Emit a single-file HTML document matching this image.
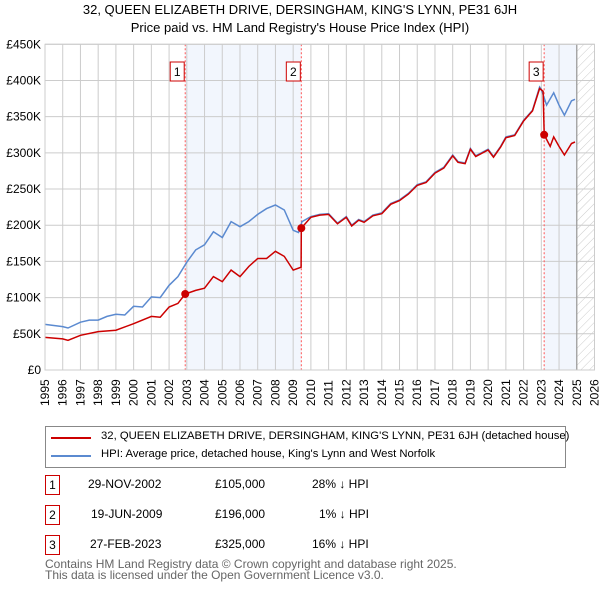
<!DOCTYPE html>
<html><head><meta charset="utf-8"><style>
body{margin:0;background:#fff;font-family:"Liberation Sans","DejaVu Sans",sans-serif;}
#wrap{position:relative;width:600px;height:590px;overflow:hidden;}
.t{position:absolute;font-size:12px;color:#000;white-space:nowrap}
.nb{position:absolute;width:13px;height:18px;border:1px solid #c00;font-size:12px;text-align:center;line-height:18px;left:45px}
</style></head><body><div id="wrap">
<div class="t" style="left:0;width:600px;text-align:center;top:2px;font-size:13px">32, QUEEN ELIZABETH DRIVE, DERSINGHAM, KING'S LYNN, PE31 6JH</div>
<div class="t" style="left:0;width:600px;text-align:center;top:20px;font-size:13px">Price paid vs. HM Land Registry's House Price Index (HPI)</div>
<svg id="svg" width="600" height="420" style="position:absolute;left:0;top:0"></svg>
<div style="position:absolute;left:45px;top:426px;width:521px;height:42px;border:1px solid #888;box-sizing:border-box">
<div><div style="position:absolute;left:5px;top:10px;width:40px;height:2px;background:#c00"></div><div class="t" style="left:55px;top:3px;font-size:11.3px">32, QUEEN ELIZABETH DRIVE, DERSINGHAM, KING'S LYNN, PE31 6JH (detached house)</div></div>
<div><div style="position:absolute;left:5px;top:28px;width:40px;height:2px;background:#5b8ad0"></div><div class="t" style="left:55px;top:21px;font-size:11.3px">HPI: Average price, detached house, King's Lynn and West Norfolk</div></div>
</div>
<div>
<div><div class="nb" style="top:475px">1</div><div class="t" style="left:88px;top:477px">29-NOV-2002</div><div class="t" style="left:215px;top:477px">£105,000</div><div class="t" style="left:312px;top:477px">28% ↓ HPI</div></div>
<div><div class="nb" style="top:505px">2</div><div class="t" style="left:91px;top:507px">19-JUN-2009</div><div class="t" style="left:215px;top:507px">£196,000</div><div class="t" style="left:319px;top:507px">1% ↓ HPI</div></div>
<div><div class="nb" style="top:535px">3</div><div class="t" style="left:90px;top:537px">27-FEB-2023</div><div class="t" style="left:215px;top:537px">£325,000</div><div class="t" style="left:312px;top:537px">16% ↓ HPI</div></div>
</div>
<div class="t" style="left:45px;top:559px;color:#666;line-height:11px">Contains HM Land Registry data © Crown copyright and database right 2025.<br>This data is licensed under the Open Government Licence v3.0.</div>
</div>
<script>
const hpiYears=[1995,1996,1996.3,1997,1997.5,1998,1998.5,1999,1999.5,2000,2000.5,2001,2001.5,2002,2002.5,2003,2003.5,2004,2004.5,2005,2005.5,2006,2006.5,2007,2007.5,2008,2008.5,2009,2009.3,2009.5,2010,2010.5,2011,2011.5,2012,2012.3,2012.7,2013,2013.5,2014,2014.5,2015,2015.5,2016,2016.5,2017,2017.5,2018,2018.3,2018.7,2019,2019.3,2020,2020.3,2020.7,2021,2021.5,2022,2022.5,2022.9,2023,2023.3,2023.7,2024,2024.3,2024.7,2024.9];
const hpiValues=[63,60,58,66,69,69,74,77,76,88,87,101,100,117,129,149,166,173,191,183,205,198,205,215,223,228,221,193,190,205,212,215,216,203,212,200,208,205,214,217,230,235,244,256,260,273,280,297,288,286,306,296,305,295,309,322,325,345,359,391,388,366,383,366,352,372,374];
const priceYears=[1995,1996,1996.3,1997,1998,1999,2000,2001,2001.5,2002,2002.5,2002.91,2003.5,2004,2004.5,2005,2005.5,2006,2006.5,2007,2007.5,2008,2008.5,2009,2009.45,2009.46,2010,2010.5,2011,2011.5,2012,2012.3,2012.7,2013,2013.5,2014,2014.5,2015,2015.5,2016,2016.5,2017,2017.5,2018,2018.3,2018.7,2019,2019.3,2020,2020.3,2020.7,2021,2021.5,2022,2022.5,2022.9,2023.1,2023.16,2023.5,2023.7,2024,2024.3,2024.7,2024.9];
const priceValues=[45,43,41,48,53,55,64,74,73,87,92,105,110,113,129,122,138,129,143,154,154,164,157,138,142,196,211,214,215,202,211,199,207,204,213,216,229,234,243,255,259,272,279,296,287,285,305,295,304,294,308,321,324,344,358,389,385,325,309,322,309,297,313,315];
const saleYears=[2002.91,2009.46,2023.16];
const saleValues=[105,196,325];
const saleLabels=["1","2","3"];
const yTicks=[0,50,100,150,200,250,300,350,400,450];
const yTickLabels=["£0","£50K","£100K","£150K","£200K","£250K","£300K","£350K","£400K","£450K"];
const xTicks=[1995,1996,1997,1998,1999,2000,2001,2002,2003,2004,2005,2006,2007,2008,2009,2010,2011,2012,2013,2014,2015,2016,2017,2018,2019,2020,2021,2022,2023,2024,2025,2026];
const X0=45,X1=594.5,Y0=370,Y1=44.3;
const x=v=>X0+(v-1995)/(31)*(X1-X0);
const y=v=>Y0-v/450*(Y0-Y1);
const svg=document.getElementById('svg');const NS='http://www.w3.org/2000/svg';
function mk(t,a,p){const e=document.createElementNS(NS,t);for(const k in a)e.setAttribute(k,a[k]);(p||svg).appendChild(e);return e;}
const defs=mk('defs',{});const pat=mk('pattern',{id:'hatch',width:6,height:6,patternUnits:'userSpaceOnUse',patternTransform:'rotate(45)'},defs);mk('line',{x1:0,y1:0,x2:0,y2:6,stroke:'#ccc','stroke-width':1},pat);
let r=mk('rect',{x:x(saleYears[0]),y:Y1,width:x(saleYears[1])-x(saleYears[0]),height:Y0-Y1,fill:'#f2f6fd'});

r=mk('rect',{x:x(saleYears[2]),y:Y1,width:x(2025)-x(saleYears[2]),height:Y0-Y1,fill:'#f2f6fd'});

r=mk('rect',{x:x(2025),y:Y1,width:X1-x(2025),height:Y0-Y1,fill:'url(#hatch)'});

yTicks.forEach((v,i)=>{const l=mk('line',{x1:X0,x2:X1,y1:y(v),y2:y(v),stroke:'#ccc'});
const t=mk('text',{x:41,y:y(v)+4,'text-anchor':'end','font-size':12,fill:'#000'});t.textContent=yTickLabels[i];});
xTicks.forEach(v=>{const l=mk('line',{x1:x(v),x2:x(v),y1:Y1,y2:Y0,stroke:'#ccc'});
const t=mk('text',{x:0,y:0,transform:`translate(${x(v)+4},${Y0+36}) rotate(-90)`,'font-size':12,fill:'#000'});t.textContent=v;});
let l=mk('line',{x1:x(2025),x2:x(2025),y1:Y1,y2:Y0,stroke:'#999','stroke-width':1.2});
saleYears.forEach((s,i)=>{const d=mk('line',{x1:x(s),x2:x(s),y1:Y1,y2:Y0,stroke:'#f55','stroke-dasharray':'2,2'});});
const path=(xs,vs)=>xs.map((v,i)=>(i?'L':'M')+x(v).toFixed(1)+','+y(vs[i]).toFixed(1)).join('');
let p=mk('path',{d:path(hpiYears,hpiValues),fill:'none',stroke:'#5b8ad0','stroke-width':1.5});
p=mk('path',{d:path(priceYears,priceValues),fill:'none',stroke:'#c00','stroke-width':1.5});
saleYears.forEach((s,i)=>{const c=mk('circle',{cx:x(s),cy:y(saleValues[i]),r:4,fill:'#c00'});
const g=mk('g',{});
mk('rect',{x:x(s)-15,y:62,width:14,height:19,fill:'#fff',stroke:'#c00'},g);
const t=mk('text',{x:x(s)-8,y:76,'text-anchor':'middle','font-size':12},g);t.textContent=saleLabels[i];});
mk('rect',{x:X0,y:Y1,width:X1-X0,height:Y0-Y1,fill:'none',stroke:'#ccc'});
</script></body></html>
